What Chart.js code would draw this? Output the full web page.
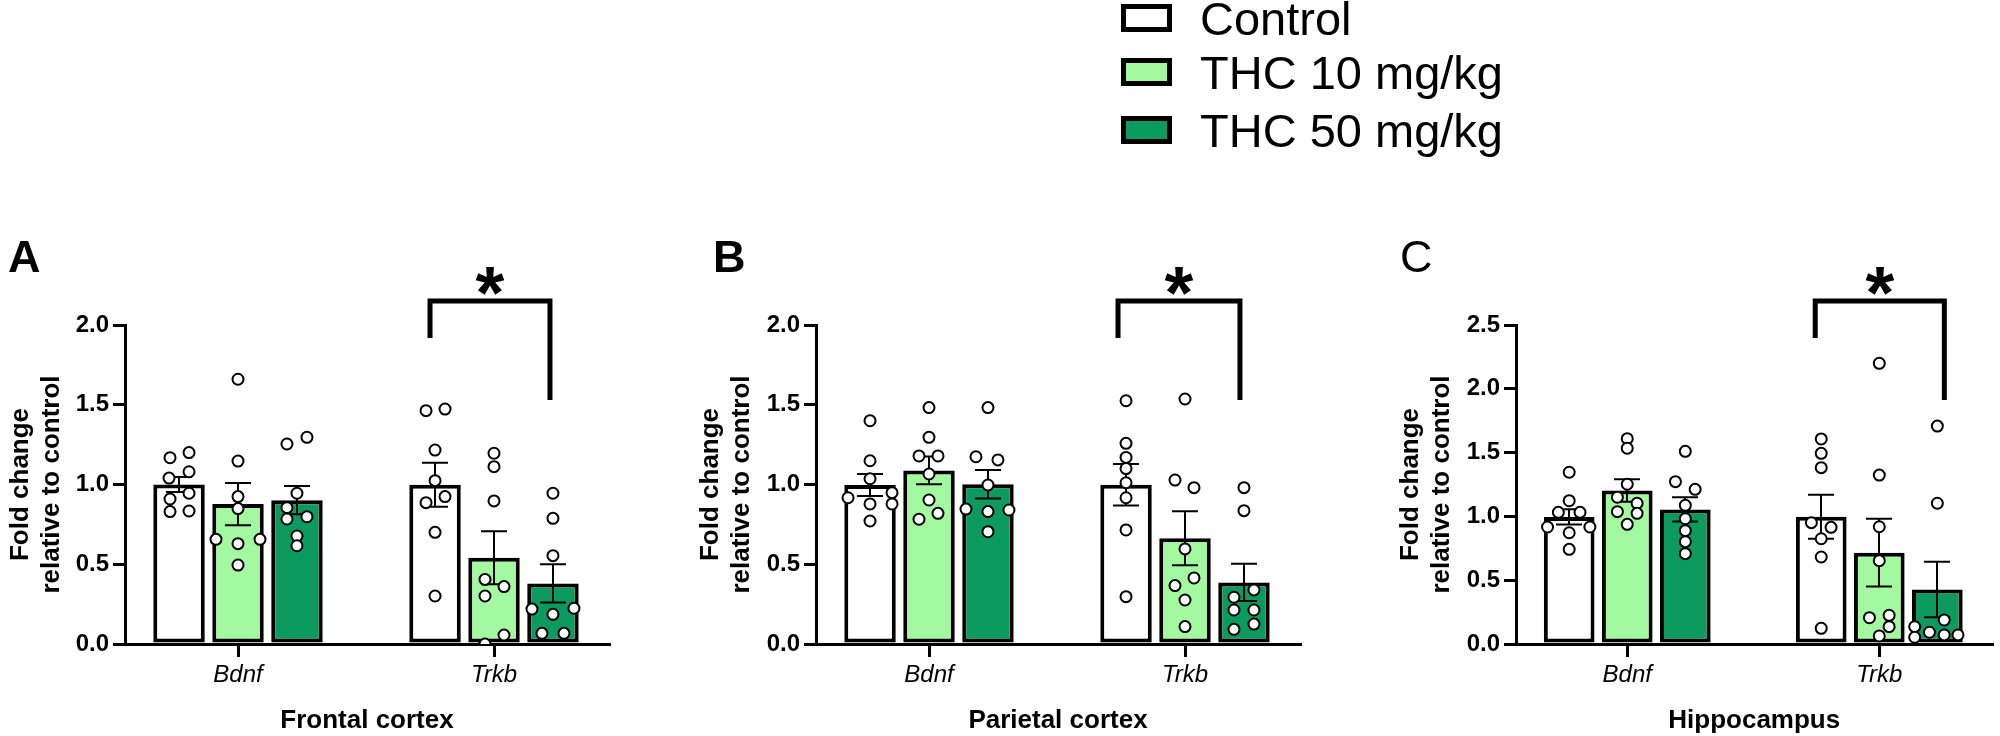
<!DOCTYPE html>
<html>
<head>
<meta charset="utf-8">
<script src="https://cdn.jsdelivr.net/npm/chart.js@4.4.1/dist/chart.umd.min.js"></script>
<style>
html, body { margin: 0; padding: 0; background: #fff; overflow: hidden; }
#wrap { position: relative; width: 2000px; height: 736px; background: #fff; }
canvas { position: absolute; top: 0; }
.legbox { position: absolute; left: 1121px; width: 51px; height: 28px; box-sizing: border-box; border: 5px solid #000; }
.legtext { position: absolute; left: 1200px; font-family: 'Liberation Sans', Arial, Helvetica, sans-serif; font-size: 47px; line-height: 47px; color: #000; white-space: nowrap; }
</style>
</head>
<body>
<div id="wrap">
  <canvas id="cA" width="690" height="736" style="left:0px"></canvas>
  <canvas id="cB" width="700" height="736" style="left:690px"></canvas>
  <canvas id="cC" width="610" height="736" style="left:1390px"></canvas>
  <div id="legend"></div>
</div>
<script>
// ---------------- DATA ----------------
const categories = ['Bdnf', 'Trkb'];
const seriesNames = ['Control', 'THC 10 mg/kg', 'THC 50 mg/kg'];
const seriesColors = ['#ffffff', '#a3f9a0', '#0c9a5e'];
const panelTitles = ['Frontal cortex', 'Parietal cortex', 'Hippocampus'];
const yTitle = ['Fold change', 'relative to control'];
const yMaxes = [2.0, 2.0, 2.5];

// means / SEM : [category][series]
const frontalMeans = [[1.000, 0.877, 0.902], [0.999, 0.541, 0.380]];
const frontalSems  = [[0.047, 0.133, 0.088], [0.138, 0.166, 0.120]];
const parietalMeans = [[0.997, 1.088, 1.002], [0.998, 0.663, 0.386]];
const parietalSems  = [[0.069, 0.087, 0.089], [0.130, 0.170, 0.117]];
const hippoMeans = [[0.996, 1.203, 1.055], [0.997, 0.716, 0.427]];
const hippoSems  = [[0.060, 0.088, 0.095], [0.172, 0.266, 0.218]];

// individual values : [category][series][animal]
const frontalPoints = [
  [[1.168, 1.200, 1.080, 1.040, 0.945, 0.909, 0.830, 0.834],
   [1.660, 1.147, 0.924, 0.849, 0.656, 0.629, 0.656, 0.495],
   [1.254, 1.296, 0.945, 0.855, 0.798, 0.784, 0.677, 0.616]],
  [[1.463, 1.473, 1.216, 1.024, 0.886, 0.924, 0.700, 0.301],
   [1.196, 1.112, 0.897, 0.405, 0.360, 0.301, 0.056, 0.000],
   [0.945, 0.788, 0.554, 0.219, 0.186, 0.067, 0.224, 0.067]]
];
const parietalPoints = [
  [[1.400, 1.149, 1.036, 0.917, 0.949, 0.878, 0.878, 0.771],
   [1.482, 1.296, 1.179, 1.179, 1.066, 0.903, 0.782, 0.819],
   [1.482, 1.174, 1.154, 0.997, 0.846, 0.840, 0.830, 0.704]],
  [[1.525, 1.258, 1.170, 1.100, 1.011, 0.917, 0.715, 0.297],
   [1.536, 1.028, 0.980, 0.596, 0.414, 0.366, 0.276, 0.109],
   [0.980, 0.836, 0.339, 0.293, 0.213, 0.213, 0.092, 0.125]]
];
const hippoPoints = [
  [[1.346, 1.123, 1.032, 1.032, 0.917, 0.917, 0.872, 0.742],
   [1.609, 1.534, 1.252, 1.150, 1.103, 1.037, 1.024, 0.938],
   [1.510, 1.272, 1.212, 1.087, 0.982, 0.888, 0.802, 0.708]],
  [[1.607, 1.494, 1.382, 0.951, 0.914, 0.825, 0.682, 0.123],
   [2.200, 1.324, 0.919, 0.653, 0.206, 0.225, 0.136, 0.063],
   [1.708, 1.103, 0.188, 0.136, 0.092, 0.071, 0.071, 0.053]]
];

// horizontal scatter lanes of the dots (layout only, in dot-lane units)
const frontalLanes = [
  [[-0.9, 1, 1, -1, 1, -0.9, -0.9, 1], [0, 0, 0, 0, -2.2, 0, 2.2, 0], [-1, 1, 0, -1, 1, -1, 0, 0]],
  [[-0.9, 1, 0, 0, -0.9, 1, 0, 0], [0, 0, 0, -0.9, 1, -0.9, 1, -0.9], [0, 0, 0, -2.1, 0, -1.1, 2.1, 1.1]]
];
const parietalLanes = [
  [[0, 0, 0, -2.2, 2.2, 0, 2.2, 0], [0, 0, -1, 0.9, 0, 0, -1, 0.9], [0, -1.2, 1, 0, -2.2, 2.1, 0, 0]],
  [[0, 0, 0, 0, 0, 0, 0, 0], [0, -1, 0.9, 0, 0.9, -1, 0, 0], [0, 0, 1, -1, -1, 1, -1, 1]]
];
const hippoLanes = [
  [[0, 0, -1.1, 1.1, -2.2, 2.1, 0, 0], [0, 0, 0, -1, 1, -1, 1, 0], [0, -1, 1, 0, 0, 0, 0, 0]],
  [[0, 0, 0, -1, 1, 0, 0, 0], [0, 0, 0, 0, -1, 1, 1, 0], [0, 0, 0.7, -2.3, -0.8, 0.7, 2.1, -2.3]]
];

// ---------------- STYLE / LAYOUT ----------------
const FONT = "'Liberation Sans', Arial, Helvetica, sans-serif";
const CAT_PCT = 0.691, BAR_PCT = 0.873;
const GROUP_STEP = CAT_PCT / 3;
const LANE = 10 / 256;
const X_MIN = -113 / 256, X_MAX = 1 + 115 / 256;

Chart.defaults.color = '#000';
Chart.defaults.font.family = FONT;

const errorBarPlugin = {
  id: 'errbars',
  afterDatasetDraw(chart, args) {
    const ds = chart.data.datasets[args.index];
    if (!ds.sem) return;
    const ys = chart.scales.y, ctx = chart.ctx;
    ctx.save();
    ctx.strokeStyle = '#000';
    ctx.lineWidth = 2;
    args.meta.data.forEach((bar, i) => {
      const m = ds.data[i].y, s = ds.sem[i];
      const t = ys.getPixelForValue(m + s), b = ys.getPixelForValue(m - s);
      const cx = Math.round(bar.x);
      ctx.beginPath();
      ctx.moveTo(cx, t); ctx.lineTo(cx, b);
      ctx.moveTo(cx - 13, t); ctx.lineTo(cx + 13, t);
      ctx.moveTo(cx - 13, b); ctx.lineTo(cx + 13, b);
      ctx.stroke();
    });
    ctx.restore();
  }
};

const annotPlugin = {
  id: 'annot',
  afterDraw(chart, args, o) {
    const ctx = chart.ctx, xs = chart.scales.x, top = chart.chartArea.top;
    ctx.save();
    ctx.fillStyle = '#000';
    ctx.textBaseline = 'alphabetic';
    ctx.textAlign = 'left';
    ctx.font = o.letterWeight + ' 45px ' + FONT;
    ctx.fillText(o.letter, o.letterX, 272);
    const xl = xs.getPixelForValue(1 - GROUP_STEP) + o.leftNudge;
    const xr = xs.getPixelForValue(1 + GROUP_STEP) + o.rightNudge;
    ctx.strokeStyle = '#000';
    ctx.lineWidth = 5;
    ctx.lineJoin = 'miter';
    ctx.lineCap = 'butt';
    ctx.beginPath();
    ctx.moveTo(xl, top + 13);
    ctx.lineTo(xl, top - 24);
    ctx.lineTo(xr, top - 24);
    ctx.lineTo(xr, top + 75);
    ctx.stroke();
    ctx.font = 'bold 74px ' + FONT;
    ctx.textAlign = 'center';
    ctx.fillText('*', (xl + xr) / 2, top - 7);
    ctx.restore();
  }
};

function buildPanel(id, p) {
  const datasets = [];
  seriesNames.forEach((name, s) => {
    datasets.push({
      type: 'bar',
      label: name,
      data: categories.map((c, k) => ({ x: k, y: p.means[k][s] })),
      sem: categories.map((c, k) => p.sems[k][s]),
      backgroundColor: seriesColors[s],
      borderColor: '#000',
      borderWidth: 4,
      borderSkipped: false,
      categoryPercentage: CAT_PCT,
      barPercentage: BAR_PCT,
      order: 2
    });
  });
  seriesNames.forEach((name, s) => {
    const pts = [];
    categories.forEach((c, k) => {
      p.points[k][s].forEach((v, j) => {
        pts.push({ x: k + (s - 1) * GROUP_STEP + p.lanes[k][s][j] * LANE, y: v });
      });
    });
    datasets.push({
      type: 'scatter',
      label: name + ' individual',
      data: pts,
      pointRadius: 5.5,
      pointBorderWidth: 2,
      pointBackgroundColor: '#ffffff',
      pointBorderColor: '#000',
      showLine: false,
      order: 1
    });
  });

  return new Chart(document.getElementById(id), {
    type: 'bar',
    data: { datasets },
    plugins: [errorBarPlugin, annotPlugin],
    options: {
      responsive: false,
      animation: false,
      events: [],
      layout: { padding: { left: 0, right: p.padRight, top: 325, bottom: 0 } },
      plugins: {
        legend: { display: false },
        tooltip: { enabled: false },
        annot: p.annot
      },
      scales: {
        x: {
          type: 'linear',
          offset: false,
          min: X_MIN,
          max: X_MAX,
          afterBuildTicks: (ax) => { ax.ticks = categories.map((c, k) => ({ value: k })); },
          afterFit: (ax) => { ax.height = 92; },
          ticks: {
            callback: (v, i) => categories[i],
            font: { family: FONT, size: 24, style: 'italic' },
            color: '#000',
            padding: 4,
            maxRotation: 0,
            autoSkip: false
          },
          grid: { display: true, offset: false, drawOnChartArea: false, drawTicks: true, tickLength: 13, lineWidth: 3, color: '#000' },
          border: { display: true, width: 3, color: '#000' },
          title: {
            display: true,
            text: p.title,
            font: { family: FONT, size: 26, weight: 'bold' },
            color: '#000',
            padding: { top: 0, bottom: 0 }
          }
        },
        y: {
          min: 0,
          max: p.yMax,
          afterFit: (ax) => { ax.width = p.yWidth; },
          ticks: {
            stepSize: 0.5,
            callback: (v) => Number(v).toFixed(1),
            font: { family: FONT, size: 24, weight: 'bold' },
            color: '#000',
            padding: 4
          },
          grid: { display: true, drawOnChartArea: false, drawTicks: true, tickLength: 12, lineWidth: 3, color: '#000' },
          border: { display: true, width: 3, color: '#000' },
          title: {
            display: true,
            text: yTitle,
            font: { family: FONT, size: 26, weight: 'bold' },
            color: '#000',
            padding: { top: 5, bottom: 0 }
          }
        }
      }
    }
  });
}

buildPanel('cA', {
  means: frontalMeans, sems: frontalSems, points: frontalPoints, lanes: frontalLanes,
  title: panelTitles[0], yMax: yMaxes[0], yWidth: 125, padRight: 81,
  annot: { letter: 'A', letterX: 8, letterWeight: 'bold', leftNudge: -5, rightNudge: -3 }
});
buildPanel('cB', {
  means: parietalMeans, sems: parietalSems, points: parietalPoints, lanes: parietalLanes,
  title: panelTitles[1], yMax: yMaxes[1], yWidth: 126, padRight: 90,
  annot: { letter: 'B', letterX: 23, letterWeight: 'bold', leftNudge: -8, rightNudge: -4 }
});
buildPanel('cC', {
  means: hippoMeans, sems: hippoSems, points: hippoPoints, lanes: hippoLanes,
  title: panelTitles[2], yMax: yMaxes[2], yWidth: 126, padRight: 0,
  annot: { letter: 'C', letterX: 10, letterWeight: 'normal', leftNudge: -6, rightNudge: 7 }
});

// legend
const legendTops = [4, 58, 116];
const legend = document.getElementById('legend');
seriesNames.forEach((name, s) => {
  const box = document.createElement('div');
  box.className = 'legbox';
  box.style.top = legendTops[s] + 'px';
  box.style.background = seriesColors[s];
  legend.appendChild(box);
  const t = document.createElement('div');
  t.className = 'legtext';
  t.style.top = (legendTops[s] + 14 - 23) + 'px';
  t.textContent = name;
  legend.appendChild(t);
});
</script>
</body>
</html>
